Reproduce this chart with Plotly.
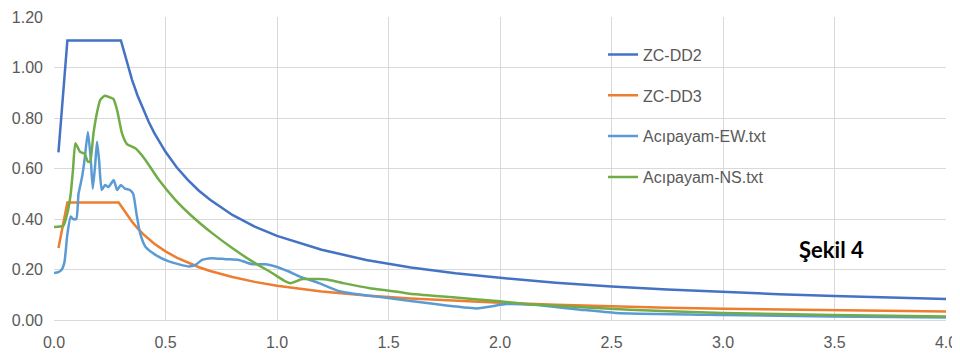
import plotly.graph_objects as go

# ZC-DD2 design spectrum
t_dd2 = [0.02, 0.06, 0.30, 0.325, 0.35, 0.375, 0.40, 0.425, 0.45, 0.50, 0.55, 0.60, 0.65, 0.70, 0.80, 0.90,
         1.00, 1.20, 1.40, 1.60, 1.80, 2.00, 2.25, 2.50, 2.75, 3.00, 3.25, 3.50, 3.75, 4.00]
v_dd2 = [0.664, 1.107, 1.107, 1.025, 0.951, 0.888, 0.832, 0.784, 0.740, 0.666, 0.605, 0.555, 0.512, 0.476, 0.416, 0.370,
         0.333, 0.278, 0.238, 0.208, 0.185, 0.167, 0.148, 0.133, 0.121, 0.111, 0.102, 0.095, 0.089, 0.083]

# ZC-DD3 design spectrum
t_dd3 = [0.02, 0.06, 0.29, 0.325, 0.35, 0.375, 0.40, 0.45, 0.50, 0.55, 0.60, 0.65, 0.70, 0.80, 0.90,
         1.00, 1.20, 1.40, 1.60, 1.80, 2.00, 2.25, 2.50, 2.75, 3.00, 3.25, 3.50, 3.75, 4.00]
v_dd3 = [0.285, 0.465, 0.465, 0.418, 0.389, 0.363, 0.340, 0.302, 0.272, 0.247, 0.227, 0.209, 0.194, 0.170, 0.151,
         0.136, 0.113, 0.097, 0.085, 0.076, 0.068, 0.060, 0.054, 0.049, 0.045, 0.042, 0.039, 0.036, 0.034]

# Acıpayam EW record spectrum
t_ew = [0.00, 0.02, 0.035, 0.047, 0.06, 0.075, 0.085, 0.10, 0.11, 0.126, 0.137, 0.152, 0.164, 0.174, 0.185,
        0.193, 0.202, 0.214, 0.229, 0.244, 0.268, 0.283, 0.30, 0.318, 0.34, 0.355, 0.37, 0.386, 0.41, 0.455,
        0.515, 0.605, 0.634, 0.664, 0.709, 0.769, 0.829, 0.889, 0.949, 0.993, 1.053, 1.103, 1.188, 1.283,
        1.498, 1.70, 1.895, 2.03, 2.15, 2.36, 2.52, 3.00, 3.49, 4.00]
v_ew = [0.186, 0.19, 0.20, 0.23, 0.34, 0.41, 0.40, 0.40, 0.50, 0.567, 0.634, 0.745, 0.647, 0.52, 0.62,
        0.706, 0.634, 0.515, 0.535, 0.527, 0.554, 0.515, 0.535, 0.52, 0.515, 0.50, 0.42, 0.344, 0.29, 0.258,
        0.232, 0.212, 0.218, 0.238, 0.245, 0.241, 0.238, 0.221, 0.221, 0.212, 0.192, 0.172, 0.146, 0.113,
        0.087, 0.064, 0.046, 0.063, 0.060, 0.041, 0.028, 0.020, 0.014, 0.010]

# Acıpayam NS record spectrum
t_ns = [0.00, 0.042, 0.06, 0.075, 0.085, 0.096, 0.117, 0.137, 0.152, 0.162, 0.177, 0.192, 0.207, 0.227,
        0.244, 0.267, 0.283, 0.305, 0.327, 0.365, 0.41, 0.47, 0.545, 0.62, 0.709, 0.799, 0.889, 0.978,
        1.038, 1.061, 1.114, 1.188, 1.223, 1.297, 1.417, 1.498, 1.596, 1.776, 2.00, 2.15, 2.58, 3.00, 3.49, 4.00]
v_ns = [0.368, 0.373, 0.423, 0.50, 0.594, 0.70, 0.666, 0.659, 0.627, 0.627, 0.739, 0.818, 0.871, 0.888,
        0.884, 0.875, 0.831, 0.739, 0.697, 0.68, 0.634, 0.555, 0.475, 0.41, 0.344, 0.285, 0.232, 0.186,
        0.153, 0.146, 0.162, 0.162, 0.160, 0.146, 0.126, 0.117, 0.104, 0.091, 0.074, 0.061, 0.041, 0.028, 0.020, 0.014]

x_ticks = [0.0, 0.5, 1.0, 1.5, 2.0, 2.5, 3.0, 3.5, 4.0]
x_labels = ["0.0", "0.5", "1.0", "1.5", "2.0", "2.5", "3.0", "3.5", "4.0"]
y_ticks = [0.0, 0.2, 0.4, 0.6, 0.8, 1.0, 1.2]
y_labels = ["0.00", "0.20", "0.40", "0.60", "0.80", "1.00", "1.20"]

fig = go.Figure()
fig.add_trace(go.Scatter(x=t_dd2, y=v_dd2, name="ZC-DD2", mode="lines",
                         line=dict(color="#4472C4", width=2.5), legendgroup="a"))
fig.add_trace(go.Scatter(x=t_dd3, y=v_dd3, name="ZC-DD3", mode="lines",
                         line=dict(color="#ED7D31", width=2.5), legendgroup="b"))
fig.add_trace(go.Scatter(x=t_ew, y=v_ew, name="Acıpayam-EW.txt", mode="lines",
                         line=dict(color="#5B9BD5", width=2.5, shape="spline", smoothing=0.5), legendgroup="c"))
fig.add_trace(go.Scatter(x=t_ns, y=v_ns, name="Acıpayam-NS.txt", mode="lines",
                         line=dict(color="#70AD47", width=2.5, shape="spline", smoothing=0.5), legendgroup="d"))

fig.add_annotation(text="<b>Şekil 4</b>", x=3.485, y=0.28, xref="x", yref="y",
                   showarrow=False, font=dict(family="Lato", size=22, color="#000000"))

fig.update_layout(
    width=952, height=342,
    margin=dict(l=46, r=14, t=9, b=30, autoexpand=False),
    plot_bgcolor="white", paper_bgcolor="white",
    font=dict(family="Liberation Sans, Arial, sans-serif", size=16, color="#595959"),
    showlegend=True,
    legend=dict(x=0.6155, y=0.932, xanchor="left", yanchor="top", bgcolor="rgba(0,0,0,0)",
                tracegroupgap=17, font=dict(size=16, color="#595959")),
    xaxis=dict(range=[0, 4], tickvals=x_ticks, ticktext=x_labels, showgrid=True, gridcolor="#D9D9D9",
               gridwidth=1, zeroline=False, showline=True, linecolor="#D9D9D9", ticks="",
               ticklabelstandoff=8, automargin=False, ticklabeloverflow="allow"),
    yaxis=dict(range=[0, 1.2], tickvals=y_ticks, ticktext=y_labels, showgrid=True, gridcolor="#D9D9D9",
               gridwidth=1, zeroline=False, showline=False, ticks="", ticklabelstandoff=10,
               automargin=False),
)

fig.write_html("out.html")
